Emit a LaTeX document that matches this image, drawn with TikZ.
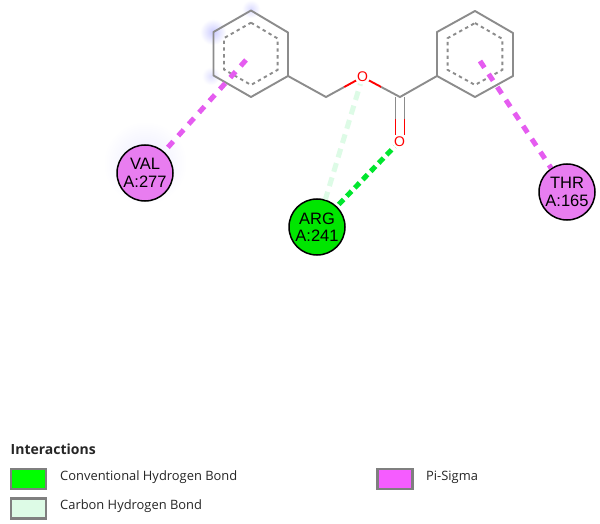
\documentclass[tikz,border=0pt]{standalone}
\usepackage{fontspec}
\setmainfont{Liberation Sans}
\newfontfamily\legendfont{Open Sans}
\usetikzlibrary{calc}
\definecolor{bondgrey}{HTML}{8C8C8C}
\definecolor{pisigma}{HTML}{E55CF0}
\definecolor{pifill}{HTML}{E87DF0}
\definecolor{hbond}{HTML}{00E62E}
\definecolor{argfill}{HTML}{00E600}
\definecolor{chbond}{HTML}{DDFBE6}
\definecolor{legbox}{HTML}{7F7F7F}
\definecolor{legpi}{HTML}{F55CFF}
\tikzset{
  x=1pt,y=-1pt,
  bond/.style={draw=bondgrey,line width=1.9pt},
  oxbond/.style={draw=red,line width=1.9pt},
  aromatic/.style={draw=bondgrey,line width=1.9pt,dash pattern=on 3.4pt off 3.4pt},
  oxygen/.style={text=red,font=\fontsize{14}{14}\selectfont,inner sep=0pt,fill=white,circle,minimum size=8pt},
  residue/.style={circle,draw=black,line width=1.5pt,minimum size=56pt,inner sep=0pt,align=center,text=black,
    font=\fontsize{16.5}{17.5}\selectfont},
  pilink/.style={draw=pisigma,line width=5pt,dash pattern=on 8pt off 7.6pt},
  hlink/.style={draw=hbond,line width=5pt,dash pattern=on 7pt off 4.5pt},
  chlink/.style={draw=chbond,line width=5pt,dash pattern=on 9pt off 6pt},
  legendswatch/.style={draw=legbox,line width=2.2pt,minimum width=35pt,minimum height=20pt,inner sep=0pt},
  legendtext/.style={anchor=west,inner sep=0pt,text=black!85,font=\legendfont\fontsize{12.9}{13}\selectfont},
  glow/.style={circle,draw=none,inner sep=0pt,shading=radial,inner color=#1,outer color=white}
}
\begin{document}
\begin{tikzpicture}
\useasboundingbox (0,0) rectangle (600,524);
\fill[white] (0,0) rectangle (600,524);
% glows
\node[glow=blue!8,minimum size=84pt] (glowval) at (145,163) {};
\node[glow=blue!20,minimum size=26pt] (glowa) at (213,32) {};
\node[glow=blue!14,minimum size=18pt] (glowb) at (251,9) {};
\node[glow=blue!12,minimum size=18pt] (glowc) at (211,76) {};
% ring A
\coordinate (a1) at (251,10.5);
\coordinate (a2) at (288,32.5);
\coordinate (a3) at (288,76);
\coordinate (a4) at (251,97);
\coordinate (a5) at (213.5,75.5);
\coordinate (a6) at (213.5,32);
\coordinate (ac) at (251,54);
\draw[bond,line join=round] (a1)--(a2)--(a3)--(a4)--(a5)--(a6)--cycle;
\draw[aromatic] ($(ac)!0.72!(a1)$)--($(ac)!0.72!(a2)$)--($(ac)!0.72!(a3)$)--($(ac)!0.72!(a4)$)--($(ac)!0.72!(a5)$)--($(ac)!0.72!(a6)$)--cycle;
% ring B
\coordinate (b1) at (475,11);
\coordinate (b2) at (513,33);
\coordinate (b3) at (513,76);
\coordinate (b4) at (475,97);
\coordinate (b5) at (437,76);
\coordinate (b6) at (437,32);
\coordinate (bc) at (475,54);
\draw[bond,line join=round] (b1)--(b2)--(b3)--(b4)--(b5)--(b6)--cycle;
\draw[aromatic] ($(bc)!0.72!(b1)$)--($(bc)!0.72!(b2)$)--($(bc)!0.72!(b3)$)--($(bc)!0.72!(b4)$)--($(bc)!0.72!(b5)$)--($(bc)!0.72!(b6)$)--cycle;
% chain
\coordinate (ch) at (326,97);
\coordinate (cc) at (400,97);
\coordinate (os) at (362.5,77);
\coordinate (oc) at (399.5,141.5);
\coordinate (dla) at (395.5,97);
\coordinate (dlb) at (395.5,119);
\coordinate (dlc) at (395.5,135);
\coordinate (dra) at (404.5,97);
\coordinate (drb) at (404.5,119);
\coordinate (drc) at (404.5,135);
\draw[bond] (a3)--(ch)--($(ch)!0.5!(os)$);
\draw[oxbond] ($(ch)!0.5!(os)$)--(os)--($(os)!0.5!(cc)$);
\draw[bond] ($(os)!0.5!(cc)$)--(cc)--(b5);
\draw[bond] (dla)--(dlb);
\draw[bond] (dra)--(drb);
\draw[oxbond] (dlb)--(dlc);
\draw[oxbond] (drb)--(drc);
% residues
\node[residue,fill=pifill] (val) at (145,173) {VAL\\A:277};
\node[residue,fill=argfill] (arg) at (317,227) {ARG\\A:241};
\node[residue,fill=pifill] (thr) at (567,192) {THR\\A:165};
% interactions
\coordinate (pa) at (246,60);
\coordinate (pb) at (480,61);
\draw[chlink] (os)--(arg);
\draw[hlink] (oc)--(arg);
\draw[pilink] (pa)--(val);
\draw[pilink] (pb)--(thr);
% oxygen atoms
\node[oxygen] (o1) at (os) {O};
\node[oxygen] (o2) at (oc) {O};
% legend
\node[anchor=west,inner sep=0pt,font=\legendfont\bfseries\fontsize{14}{14}\selectfont,text=black!85] (title) at (10.5,449) {Interactions};
\node[legendswatch,fill=green,anchor=center] (s1) at (28.5,479) {};
\node[legendswatch,fill=chbond,anchor=center] (s2) at (28.5,508.5) {};
\node[legendswatch,fill=legpi,anchor=center] (s3) at (395,479) {};
\node[legendtext] (t1) at (60,477) {Conventional Hydrogen Bond};
\node[legendtext] (t2) at (60,506) {Carbon Hydrogen Bond};
\node[legendtext] (t3) at (426,477) {Pi-Sigma};
\end{tikzpicture}
\end{document}
